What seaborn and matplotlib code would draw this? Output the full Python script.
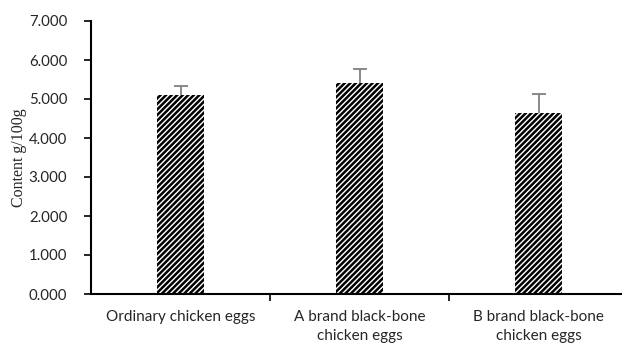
import matplotlib
matplotlib.use("Agg")
import matplotlib.pyplot as plt
import seaborn as sns
import pandas as pd
import numpy as np

categories = ["Ordinary chicken eggs",
              "A brand black-bone\nchicken eggs",
              "B brand black-bone\nchicken eggs"]
content = [5.10, 5.40, 4.64]
sd_upper = [0.24, 0.36, 0.48]
y_ticks = [0, 1, 2, 3, 4, 5, 6, 7]

sns.set_theme(style="white")
plt.rcParams["hatch.linewidth"] = 1.8
plt.rcParams["hatch.color"] = "black"

df = pd.DataFrame({"group": categories, "content": content})

fig = plt.figure(figsize=(6.22, 3.43), dpi=100)
ax = fig.add_axes([91 / 622, 1 - 294 / 343, 537 / 622, 273 / 343])

sns.barplot(data=df, x="group", y="content", ax=ax, color="white",
            width=0.26, errorbar=None, edgecolor="none", linewidth=0)
for p in ax.patches:
    p.set_hatch("//////")
    p.set_facecolor("white")
    p.set_edgecolor("black")
    p.set_linewidth(0)

# upper-only error bars with a single cap
x = np.arange(len(categories))
_, caps, _ = ax.errorbar(x, content, yerr=[np.zeros(len(sd_upper)), sd_upper],
                         fmt="none", ecolor="#808080", elinewidth=1.3,
                         capsize=5, capthick=1.3)
if len(caps) == 2:
    caps[0].remove()

ax.set_ylim(0, 7)
ax.set_xlim(-0.5, 2.5)
ax.set_yticks(y_ticks)
ax.set_yticklabels([f"{v:.3f}" for v in y_ticks], fontfamily="Lato",
                   fontsize=10.8)
ax.set_xticks(x)
ax.set_xticklabels(categories, fontfamily="Lato", fontsize=11,
                   linespacing=1.5)
ax.set_xticks([0.5, 1.5], minor=True)
ax.tick_params(axis="x", which="major", length=0, pad=11.5)
ax.tick_params(axis="x", which="minor", length=5, width=1.2,
               direction="out", bottom=True, color="black")
ax.tick_params(axis="y", length=5, width=1.2, direction="out", left=True,
               color="black", pad=12)

for side in ["top", "right"]:
    ax.spines[side].set_visible(False)
for side in ["left", "bottom"]:
    ax.spines[side].set_color("black")
    ax.spines[side].set_linewidth(1.5)

ax.set_xlabel("")
ax.set_ylabel("Content g/100g", fontfamily="Liberation Serif",
              fontsize=11.5)
ax.yaxis.set_label_coords(-64 / 537, 0.5)

fig.savefig("out.png", dpi=100)
